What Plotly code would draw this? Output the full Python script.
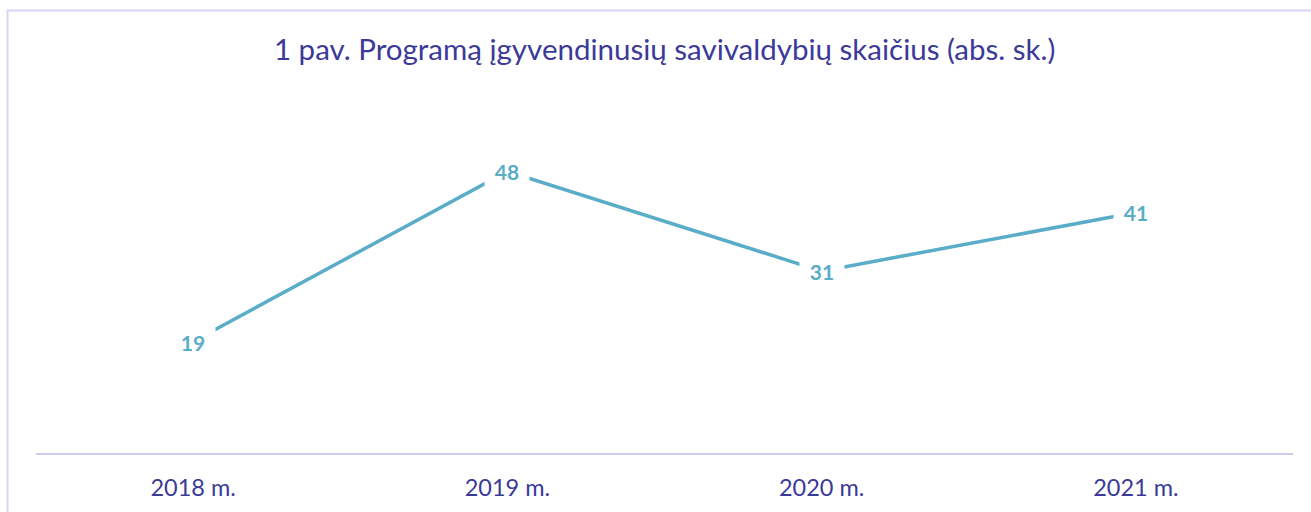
import plotly.graph_objects as go

categories = ["2018 m.", "2019 m.", "2020 m.", "2021 m."]
values = [19, 48, 31, 41]
title_text = "1 pav. Programą įgyvendinusių savivaldybių skaičius (abs. sk.)"

line_color = "#5AADC8"
text_color = "#3B3A98"
font_family = "Lato, Open Sans, sans-serif"

fig = go.Figure()
fig.add_trace(go.Scatter(
    x=categories, y=values, mode="lines",
    line=dict(color=line_color, width=3.5),
    hoverinfo="skip", showlegend=False,
))

for c, v in zip(categories, values):
    fig.add_annotation(
        x=c, y=v, xref="x", yref="y", text=f"<b>{v}</b>",
        showarrow=False, bgcolor="white", width=44, height=28, borderpad=0,
        font=dict(family=font_family, size=21, color=line_color),
        xanchor="center", yanchor="middle",
    )

fig.update_layout(
    width=1311, height=512,
    margin=dict(l=36, r=18, t=101, b=59),
    paper_bgcolor="white", plot_bgcolor="white",
    font=dict(family=font_family, color=text_color),
    title=dict(text=title_text, x=0.507, xanchor="center", y=1 - 50 / 512,
               yanchor="middle", yref="container",
               font=dict(family=font_family, size=29.5, color=text_color)),
    xaxis=dict(showline=True, linecolor="#CBCBEE", linewidth=2,
               showgrid=False, zeroline=False, ticks="",
               ticklabelstandoff=13,
               tickfont=dict(family=font_family, size=23.5, color=text_color),
               range=[-0.5, 3.5]),
    yaxis=dict(range=[0, 60], visible=False, showgrid=False, zeroline=False),
    shapes=[dict(type="rect", xref="paper", yref="paper",
                 x0=(7.5 - 36) / 1257, x1=(1330 - 36) / 1257,
                 y0=(453 - 530) / 352, y1=(453 - 10.5) / 352,
                 line=dict(color="#D6D6F2", width=2), layer="below")],
)

fig.write_html(
    "out.html",
    config={"displayModeBar": False},
    post_script="document.body.style.margin='0';document.body.style.overflow='hidden';",
)
